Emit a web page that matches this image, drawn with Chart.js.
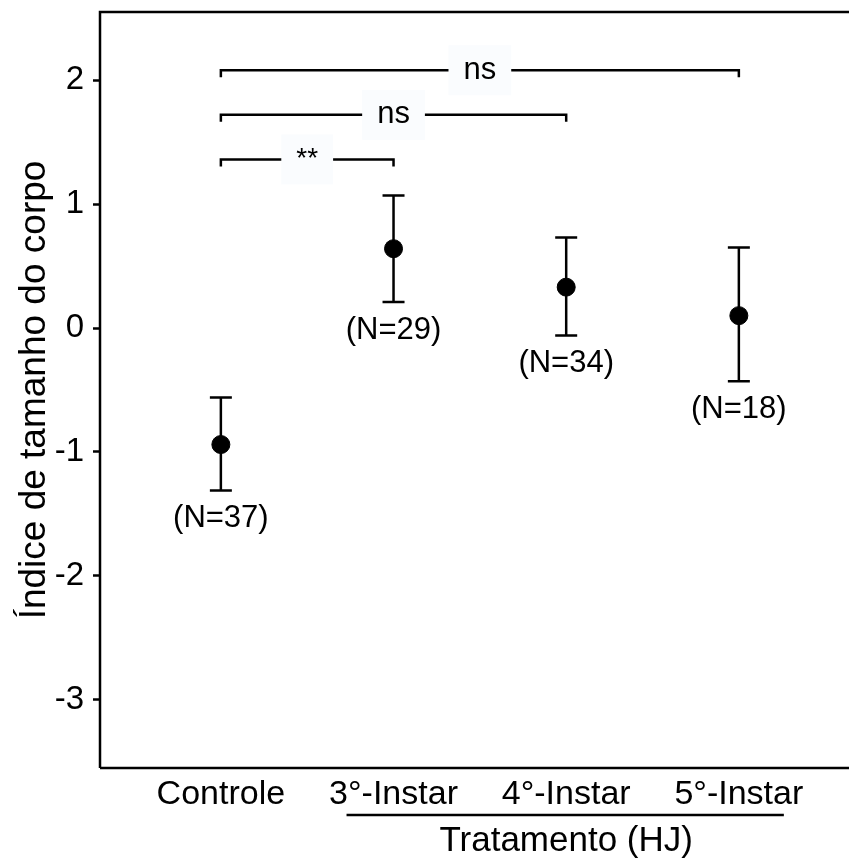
<!DOCTYPE html>
<html>
<head>
<meta charset="utf-8">
<script src="https://cdn.jsdelivr.net/npm/chart.js@4.4.0/dist/chart.umd.min.js"></script>
<style>
  html, body { margin: 0; padding: 0; background: #fff; }
</style>
</head>
<body>
<canvas id="chart" width="849" height="861"></canvas>
<script>
// Data
const categories = ['Controle', '3°-Instar', '4°-Instar', '5°-Instar'];
const means = [-0.94, 0.64, 0.33, 0.10];
const lower = [-1.31, 0.21, -0.06, -0.43];
const upper = [-0.56, 1.07, 0.73, 0.65];
const sampleSizes = ['(N=37)', '(N=29)', '(N=34)', '(N=18)'];
const yTicks = [-3, -2, -1, 0, 1, 2];

// Significance brackets: category index from -> to, height, label
const bracketFrom = [0, 0, 0];
const bracketTo = [1, 2, 3];
const bracketLevel = [1.36, 1.72, 2.08];
const bracketText = ['**', 'ns', 'ns'];

const groupTitle = 'Tratamento (HJ)';

const FONT = '"Liberation Sans", Arial, sans-serif';
const INK = '#000';

// Error bars, N labels, brackets, frame and grouped x title
const annotations = {
  id: 'annotations',
  beforeDatasetsDraw(chart) {
    const { ctx, scales: { x, y } } = chart;
    ctx.save();
    ctx.strokeStyle = INK;
    ctx.fillStyle = INK;
    ctx.lineWidth = 2.5;

    means.forEach((m, i) => {
      const px = x.getPixelForValue(i);
      const top = y.getPixelForValue(upper[i]);
      const bot = y.getPixelForValue(lower[i]);
      ctx.beginPath();
      ctx.moveTo(px, top); ctx.lineTo(px, bot);
      ctx.moveTo(px - 11, top); ctx.lineTo(px + 11, top);
      ctx.moveTo(px - 11, bot); ctx.lineTo(px + 11, bot);
      ctx.stroke();
    });

    ctx.font = `31px ${FONT}`;
    ctx.textAlign = 'center';
    ctx.textBaseline = 'middle';
    sampleSizes.forEach((s, i) => {
      ctx.fillText(s, x.getPixelForValue(i), y.getPixelForValue(lower[i]) + 28);
    });

    bracketText.forEach((label, i) => {
      const x0 = x.getPixelForValue(bracketFrom[i]);
      const x1 = x.getPixelForValue(bracketTo[i]);
      const py = y.getPixelForValue(bracketLevel[i]);
      const mid = (x0 + x1) / 2;
      ctx.font = (label === '**' ? 28 : 31) + `px ${FONT}`;
      const half = ctx.measureText(label).width / 2 + 15;

      ctx.fillStyle = '#fafcfe';
      ctx.fillRect(mid - half, py - 25, half * 2, 50);

      ctx.beginPath();
      ctx.moveTo(x0, py + 7); ctx.lineTo(x0, py); ctx.lineTo(mid - half, py);
      ctx.moveTo(mid + half, py); ctx.lineTo(x1, py); ctx.lineTo(x1, py + 7);
      ctx.stroke();

      ctx.fillStyle = INK;
      ctx.fillText(label, mid, py);
    });
    ctx.restore();
  },
  afterDraw(chart) {
    const { ctx, chartArea, scales: { x } } = chart;
    ctx.save();
    ctx.strokeStyle = INK;
    ctx.lineWidth = 2.5;
    ctx.beginPath();
    ctx.moveTo(chartArea.left, chartArea.bottom);
    ctx.lineTo(chartArea.left, chartArea.top);
    ctx.lineTo(chart.width, chartArea.top);
    ctx.moveTo(chartArea.left, chartArea.bottom);
    ctx.lineTo(chart.width, chartArea.bottom);
    ctx.stroke();

    // grouping line under the treatment categories
    ctx.lineWidth = 2.5;
    ctx.beginPath();
    ctx.moveTo(x.getPixelForValue(1) - 47, 815);
    ctx.lineTo(x.getPixelForValue(3) + 45, 815);
    ctx.stroke();

    ctx.fillStyle = INK;
    ctx.font = `35px ${FONT}`;
    ctx.textAlign = 'center';
    ctx.textBaseline = 'middle';
    ctx.fillText(groupTitle, x.getPixelForValue(2), 841);
    ctx.restore();
  }
};

new Chart(document.getElementById('chart'), {
  type: 'scatter',
  data: {
    datasets: [{
      data: means.map((m, i) => ({ x: i, y: m })),
      backgroundColor: INK,
      borderColor: INK,
      pointRadius: 9,
      pointHoverRadius: 9
    }]
  },
  options: {
    responsive: false,
    animation: false,
    devicePixelRatio: 1,
    layout: { padding: { top: 12, right: 0, left: 0, bottom: 0 } },
    plugins: {
      legend: { display: false },
      tooltip: { enabled: false }
    },
    scales: {
      x: {
        type: 'linear',
        min: -0.7,
        max: 3.58,
        afterBuildTicks: (scale) => {
          scale.ticks = categories.map((_, i) => ({ value: i }));
        },
        afterFit: (scale) => {
          scale.height = 93;
          scale.paddingLeft = 0;
          scale.paddingRight = 0;
        },
        grid: { display: false },
        border: { display: false },
        ticks: {
          autoSkip: false,
          maxRotation: 0,
          padding: -2,
          color: INK,
          font: { family: FONT, size: 34 },
          callback: (value) => categories[value]
        }
      },
      y: {
        min: -3.55,
        max: 2.55,
        afterBuildTicks: (scale) => {
          scale.ticks = yTicks.map(v => ({ value: v }));
        },
        afterFit: (scale) => {
          scale.width = 100;
          scale.paddingTop = 0;
          scale.paddingBottom = 0;
        },
        grid: {
          drawOnChartArea: false,
          drawTicks: true,
          tickLength: 7,
          tickColor: INK,
          tickWidth: 2.5
        },
        border: { display: false },
        ticks: {
          padding: 9,
          color: INK,
          font: { family: FONT, size: 33 }
        },
        title: {
          display: true,
          text: 'Índice de tamanho do corpo',
          color: INK,
          font: { family: FONT, size: 37 },
          padding: { top: 13, bottom: 0 }
        }
      }
    }
  },
  plugins: [annotations]
});
</script>
</body>
</html>
